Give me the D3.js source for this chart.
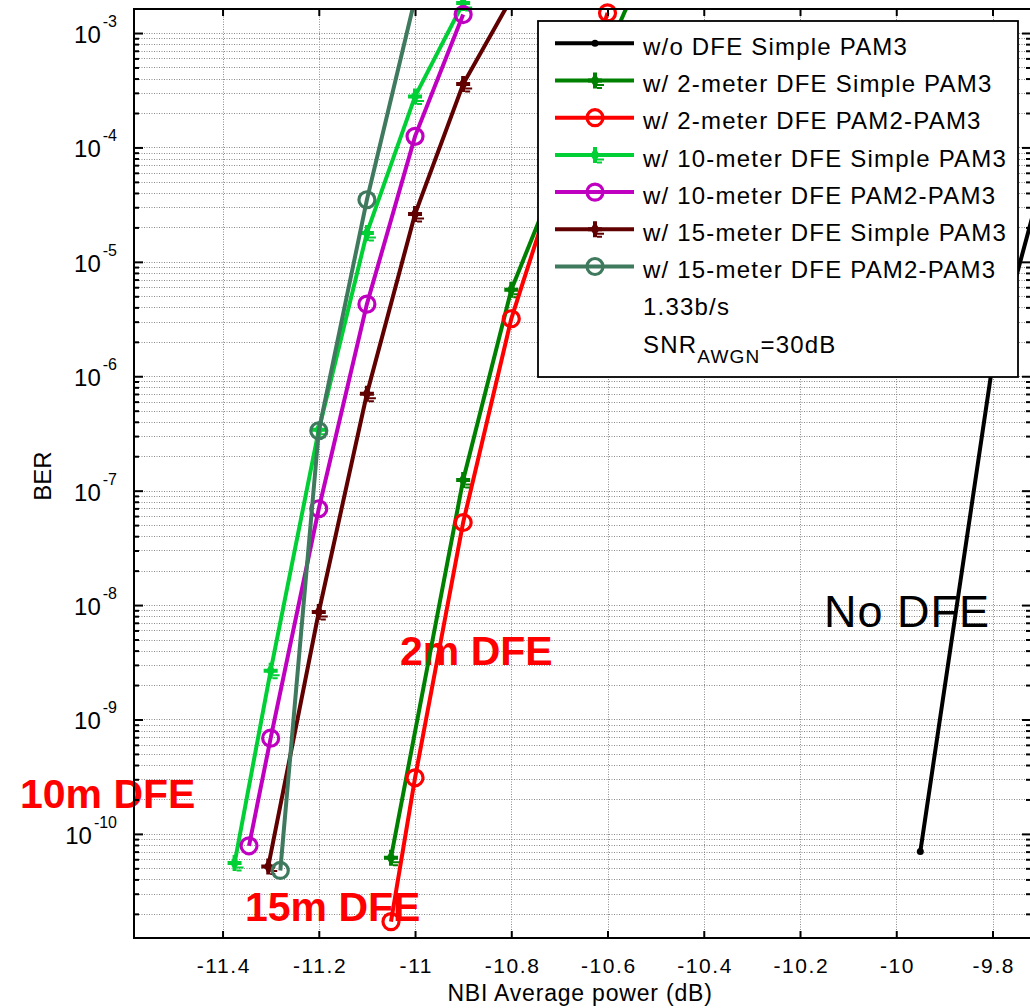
<!DOCTYPE html>
<html>
<head>
<meta charset="utf-8">
<script src="https://cdn.jsdelivr.net/npm/d3@7"></script>
<style>
  body { margin: 0; background: #fff; }
  text { font-family: "Liberation Sans", Arial, sans-serif; }
</style>
</head>
<body>
<div id="chart"></div>
<script>
// tick values
const xTicks = [-11.4, -11.2, -11, -10.8, -10.6, -10.4, -10.2, -10, -9.8];
const yExps = [-10, -9, -8, -7, -6, -5, -4, -3];

// series (x = NBI power dB, y = BER)
const noDfeX = [-9.95, -9.8, -9.7];
const noDfeBer = [7e-11, 1.26e-6, 4.6e-5];

const dfe2SimpleX = [-11.05, -10.9, -10.8, -10.7, -10.6, -10.5];
const dfe2SimpleBer = [6.2e-11, 1.24e-7, 5.7e-6, 6.3e-5, 7e-4, 6.3e-3];

const dfe2PamX = [-11.05, -11.0, -10.9, -10.8, -10.7, -10.6];
const dfe2PamBer = [1.71e-11, 3.09e-10, 5.27e-8, 3.18e-6, 6.5e-5, 1.5e-3];

const dfe10SimpleX = [-11.375, -11.3, -11.2, -11.1, -11.0, -10.9];
const dfe10SimpleBer = [5.56e-11, 2.67e-9, 3.4e-7, 1.79e-5, 2.79e-4, 1.83e-3];

const dfe10PamX = [-11.345, -11.3, -11.2, -11.1, -11.0, -10.9];
const dfe10PamBer = [7.87e-11, 6.87e-10, 6.95e-8, 4.27e-6, 1.25e-4, 1.45e-3];

const dfe15SimpleX = [-11.305, -11.2, -11.1, -11.0, -10.9, -10.8];
const dfe15SimpleBer = [5.19e-11, 8.7e-9, 7.03e-7, 2.62e-5, 3.58e-4, 2e-3];

const dfe15PamX = [-11.28, -11.2, -11.1, -11.0];
const dfe15PamBer = [4.79e-11, 3.34e-7, 3.49e-5, 2e-3];

const series = [
  {name: "w/o DFE Simple PAM3", color: "#000000", marker: "dot", xs: noDfeX, ys: noDfeBer},
  {name: "w/ 2-meter DFE Simple PAM3", color: "#008000", marker: "star", xs: dfe2SimpleX, ys: dfe2SimpleBer},
  {name: "w/ 2-meter DFE PAM2-PAM3", color: "#ff0000", marker: "circle", xs: dfe2PamX, ys: dfe2PamBer},
  {name: "w/ 10-meter DFE Simple PAM3", color: "#00d035", marker: "star", xs: dfe10SimpleX, ys: dfe10SimpleBer},
  {name: "w/ 10-meter DFE PAM2-PAM3", color: "#c000c0", marker: "circle", xs: dfe10PamX, ys: dfe10PamBer},
  {name: "w/ 15-meter DFE Simple PAM3", color: "#600000", marker: "star", xs: dfe15SimpleX, ys: dfe15SimpleBer},
  {name: "w/ 15-meter DFE PAM2-PAM3", color: "#3f7a5e", marker: "circle", xs: dfe15PamX, ys: dfe15PamBer}
];

const width = 1030, height = 1008;
const plotL = 134, plotR = 1031, plotT = 9, plotB = 938;

const svg = d3.select("#chart").append("svg")
  .attr("width", width)
  .attr("height", height);

const x = d3.scaleLinear().domain([-11.584, -9.72]).range([plotL, plotR]);
const y = d3.scaleLog().domain([Math.pow(10, -10.91), Math.pow(10, -2.79)]).range([plotB, plotT]);

// major and minor log values inside the domain
const majorVals = yExps.map(e => Math.pow(10, e));
const minorVals = [];
for (let e = -11; e <= -3; e++) {
  for (let m = 2; m <= 9; m++) {
    const v = m * Math.pow(10, e);
    if (v >= y.domain()[0] && v <= y.domain()[1]) minorVals.push(v);
  }
}
const allYVals = majorVals.concat(minorVals);

// grid
const grid = svg.append("g")
  .attr("stroke", "#8a8a8a")
  .attr("stroke-width", 1)
  .attr("stroke-dasharray", "1,1.5");
grid.selectAll("line.h").data(allYVals).enter().append("line")
  .attr("x1", plotL).attr("x2", plotR)
  .attr("y1", d => Math.round(y(d)) + 0.5)
  .attr("y2", d => Math.round(y(d)) + 0.5);
grid.selectAll("line.v").data(xTicks).enter().append("line")
  .attr("y1", plotT).attr("y2", plotB)
  .attr("x1", d => Math.round(x(d)) + 0.5)
  .attr("x2", d => Math.round(x(d)) + 0.5);

// annotations
svg.append("text").attr("x", 824).attr("y", 627)
  .attr("font-size", 45).style("letter-spacing", "1px")
  .attr("fill", "#000").text("No DFE");
const red = [
  {t: "2m DFE", x: 400, y: 665},
  {t: "10m DFE", x: 20, y: 808},
  {t: "15m DFE", x: 245, y: 921}
];
svg.selectAll("text.ann").data(red).enter().append("text")
  .attr("x", d => d.x).attr("y", d => d.y)
  .attr("font-size", 41).attr("font-weight", "bold")
  .attr("fill", "#ff0000").text(d => d.t);

// clip for lines
svg.append("clipPath").attr("id", "plotClip")
  .append("rect").attr("x", plotL).attr("y", plotT)
  .attr("width", plotR - plotL).attr("height", plotB - plotT);

const line = d3.line().x(d => x(d[0])).y(d => y(d[1]));

const starPath = "M0,-8L0,8M-7,0L7,0";
const starDash = "M2,4.5L9,4.5M2,7.5L7,7.5";

function drawMarker(g, s, px, py) {
  if (s.marker === "circle") {
    g.append("circle").attr("cx", px).attr("cy", py).attr("r", 8)
      .attr("fill", "none").attr("stroke", s.color).attr("stroke-width", 3.2);
  } else if (s.marker === "star") {
    const m = g.append("g").attr("transform", `translate(${px},${py})`);
    m.append("path").attr("d", starPath).attr("stroke", s.color).attr("stroke-width", 4);
    m.append("path").attr("d", d3.symbol().type(d3.symbolDiamond).size(70)())
      .attr("fill", s.color);
    m.append("path").attr("d", starDash).attr("stroke", s.color).attr("stroke-width", 2);
  } else {
    g.append("circle").attr("cx", px).attr("cy", py).attr("r", 3.5).attr("fill", s.color);
  }
}

series.forEach(s => {
  const pts = s.xs.map((v, i) => [v, s.ys[i]]);
  svg.append("path").datum(pts)
    .attr("clip-path", "url(#plotClip)")
    .attr("fill", "none")
    .attr("stroke", s.color)
    .attr("stroke-width", 4)
    .attr("d", line);
  const mg = svg.append("g");
  pts.forEach(p => {
    const py = y(p[1]);
    const px = x(p[0]);
    if (py >= 2 && px <= plotR) drawMarker(mg, s, px, py);
  });
});

// axes ticks
const tickStyle = g => {
  g.select(".domain").remove();
  g.selectAll(".tick line").attr("stroke", "#000").attr("stroke-width", 2);
};
svg.append("g").attr("transform", `translate(0,${plotB})`)
  .call(d3.axisBottom(x).tickValues(xTicks).tickSize(-7).tickPadding(20)
    .tickFormat(d => String(d)))
  .call(tickStyle)
  .call(g => g.selectAll(".tick text")
    .attr("font-size", 21).attr("fill", "#000")
    .attr("font-family", "'Liberation Sans', Arial, sans-serif")
    .style("letter-spacing", "1.6px").attr("dx", "0.8px"));
svg.append("g").attr("transform", `translate(0,${plotT})`)
  .call(d3.axisTop(x).tickValues(xTicks).tickSize(-7).tickFormat(""))
  .call(tickStyle);
svg.append("g").attr("transform", `translate(${plotL},0)`)
  .call(d3.axisLeft(y).tickValues(majorVals).tickSize(-9).tickFormat(""))
  .call(tickStyle);
svg.append("g").attr("transform", `translate(${plotL},0)`)
  .call(d3.axisLeft(y).tickValues(minorVals).tickSize(-5).tickFormat(""))
  .call(tickStyle);
svg.append("g").attr("transform", `translate(${plotR},0)`)
  .call(d3.axisRight(y).tickValues(majorVals).tickSize(-9).tickFormat(""))
  .call(tickStyle);
svg.append("g").attr("transform", `translate(${plotR},0)`)
  .call(d3.axisRight(y).tickValues(minorVals).tickSize(-5).tickFormat(""))
  .call(tickStyle);

// y labels with superscripts
const yl = svg.selectAll("text.ylab").data(yExps).enter().append("text")
  .attr("x", 117).attr("y", d => y(Math.pow(10, d)) + 10)
  .attr("text-anchor", "end").attr("fill", "#000");
yl.append("tspan").attr("font-size", 24).text("10");
yl.append("tspan").attr("font-size", 16).attr("dy", -16).attr("dx", 2).text(d => String(d));

// frame
svg.append("rect").attr("x", plotL).attr("y", plotT)
  .attr("width", plotR - plotL).attr("height", plotB - plotT)
  .attr("fill", "none").attr("stroke", "#000").attr("stroke-width", 2);

// axis titles
svg.append("text").attr("x", 580).attr("y", 1001)
  .attr("text-anchor", "middle").attr("font-size", 23)
  .style("letter-spacing", "0.8px").text("NBI Average power (dB)");
svg.append("text")
  .attr("transform", "translate(51,476) rotate(-90)")
  .attr("text-anchor", "middle").attr("font-size", 24)
  .text("BER");

// legend
const lg = svg.append("g");
lg.append("rect").attr("x", 538).attr("y", 21).attr("width", 480).attr("height", 356)
  .attr("fill", "#fff").attr("stroke", "#000").attr("stroke-width", 1.8);
const rowY = i => 43.3 + i * 37.2;
series.forEach((s, i) => {
  const ry = rowY(i);
  lg.append("line").attr("x1", 555).attr("x2", 634).attr("y1", ry).attr("y2", ry)
    .attr("stroke", s.color).attr("stroke-width", 4);
  drawMarker(lg, s, 595, ry);
  lg.append("text").attr("x", 643).attr("y", ry + 11.7)
    .attr("font-size", 24).style("letter-spacing", "1.2px").text(s.name);
});
lg.append("text").attr("x", 643).attr("y", rowY(7) + 11.7)
  .attr("font-size", 24).style("letter-spacing", "1.2px").text("1.33b/s");
const snr = lg.append("text").attr("x", 643).attr("y", rowY(8) + 11.7)
  .attr("font-size", 24).style("letter-spacing", "1.2px");
snr.append("tspan").text("SNR");
snr.append("tspan").attr("font-size", 19).attr("dy", 10).text("AWGN");
snr.append("tspan").attr("dy", -10).text("=30dB");
</script>
</body>
</html>
